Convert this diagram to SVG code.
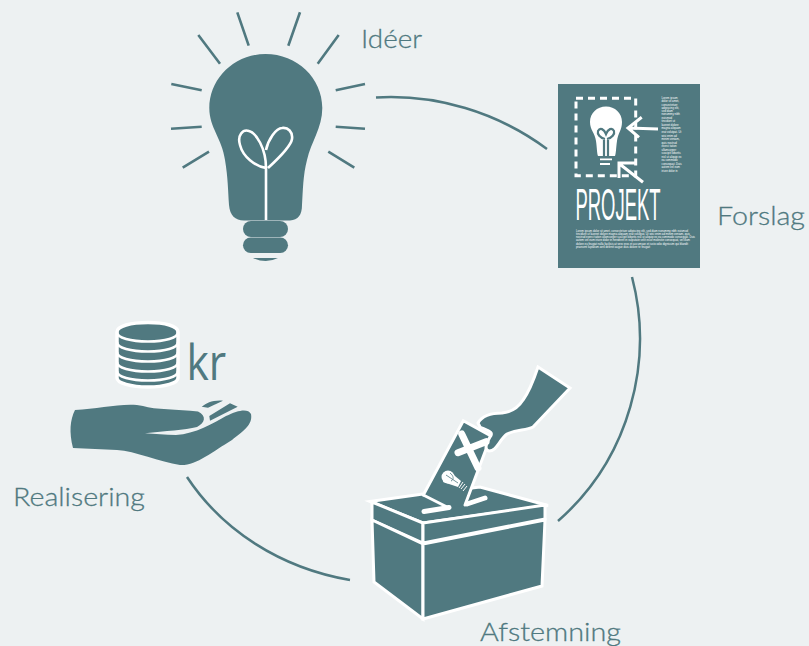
<svg xmlns="http://www.w3.org/2000/svg" width="809" height="646" viewBox="0 0 809 646">
<defs><style>
.t{fill:#507980}
.lbl{font-family:"Lato","Liberation Sans",sans-serif;font-size:26px;font-weight:300;fill:#507980;stroke:#507980;stroke-width:.3}
.ray{stroke:#507980;stroke-width:2.6;fill:none}
.arc{stroke:#507980;stroke-width:2.5;fill:none}
.w{stroke:#fff;fill:none}
.box{fill:#507980;stroke:#fff;stroke-width:3;stroke-linejoin:miter}
.tiny{font-family:"Liberation Sans",sans-serif;font-size:2.8px;fill:#fff}
</style></defs>
<rect width="809" height="646" fill="#edf1f2"/>
<g id="connectors">
<path class="arc" d="M376 97.500C436 94 497 112 547 149"/>
<path class="arc" d="M632 277C654 361 630 458 558 521"/>
<path class="arc" d="M350 580C280 568 222 530 187 477"/>
</g>
<g id="idea">
<path class="ray" d="M237.300 12.300L248.700 45.700M300 12.300L288.300 45.700M198.300 35L220 63.700M338.700 35L317.700 63.700M171.300 84L201.700 90.300M365 84L335.700 90.300M171 128.700L201.700 126.700M335.700 126.700L365 128.700M182.700 167.700L209 151.700M328.300 151.700L354.300 167.700"/>
<path class="t" d="M265.500 54C234 54 209.300 79 209.300 108C209.300 128 222 138 225 160C228 178 228 190 229 205C230 216 235 220 244 220.500L290 220.500C298 220 302 215 302 205C303 190 303 175 307 160C311 142 322.300 128 322.300 108C322.300 78 297 54 265.500 54Z"/>
<path d="M266 220V168C255 166 243 157 240 145C237 135 243 129 249 131C256 133 266 148 266 168M266 150C268 140 276 128 282 128C288 127 293 132 292 139C291 146 280 157 268 168" stroke="#fff" stroke-width="2.600" fill="none"/>
<rect class="t" x="243" y="221" width="45" height="16" rx="8"/>
<rect class="t" x="243" y="237.500" width="45" height="15.500" rx="7.700"/>
<path class="t" d="M253 258H278Q266 264 253 258Z"/>
<text class="lbl" x="361" y="48" textLength="61" lengthAdjust="spacingAndGlyphs">Idéer</text>
</g>
<g id="proposal">
<rect class="t" x="558" y="84" width="142" height="184"/>
<rect class="w" x="576" y="98.300" width="59.700" height="77.400" stroke-width="3" stroke-dasharray="7 5"/>
<path fill="#fff" d="M606 106.500C597 106.500 590 113 590 122C590 130 595 133 596 141C597 148 597 154 598 156H615C616 154 616 148 617 141C618 133 622 130 622 122C622 113 615 106.500 606 106.500Z"/>
<path d="M604 156V140M608 156V140M605 139C600 138 597 134 598 131C600 127 604 129 606 134C608 129 612 127 614 131C615 134 612 138 607 139" stroke="#507980" stroke-width="2.200" fill="none"/>
<path d="M600 159.300H612M600 164H610" stroke="#fff" stroke-width="1.800"/>
<path class="w" stroke-width="3" d="M658 129L628 128M641.700 117.300L628 128L639 137.300M643 182.300L619 163.500M637 163H619V178"/>
<text transform="translate(575.500 219.500) scale(.41 1)" font-family="Liberation Sans, sans-serif" font-size="45" fill="#fff">PROJEKT</text>
<g class="tiny">
<text x="661.500" y="99">Lorem ipsum</text><text x="661.500" y="102">dolor sit amet,</text>
<text x="661.500" y="105.500">consectetuer</text><text x="661.500" y="108.500">adipiscing elit,</text>
<text x="661.500" y="112">sed diam</text><text x="661.500" y="115">nonummy nibh</text>
<text x="661.500" y="119">euismod</text><text x="661.500" y="122">tincidunt ut</text>
<text x="661.500" y="126">laoreet dolore</text><text x="661.500" y="129">magna aliquam</text>
<text x="661.500" y="133">erat volutpat. Ut</text><text x="661.500" y="137">wisi enim ad</text>
<text x="661.500" y="140">minim veniam,</text><text x="661.500" y="144">quis nostrud</text>
<text x="661.500" y="147">exerci tation</text><text x="661.500" y="151">ullamcorper</text>
<text x="661.500" y="154">suscipit lobortis</text><text x="661.500" y="158">nisl ut aliquip ex</text>
<text x="661.500" y="161">ea commodo</text><text x="661.500" y="165">consequat. Duis</text>
<text x="661.500" y="168">autem vel eum</text><text x="661.500" y="172">iriure dolor in</text>
<text x="576" y="232" textLength="112" lengthAdjust="spacingAndGlyphs">Lorem ipsum dolor sit amet, consectetuer adipiscing elit, sed diam nonummy nibh euismod</text>
<text x="576" y="235" textLength="114" lengthAdjust="spacingAndGlyphs">tincidunt ut laoreet dolore magna aliquam erat volutpat. Ut wisi enim ad minim veniam, quis</text>
<text x="576" y="238" textLength="119" lengthAdjust="spacingAndGlyphs">nostrud exerci tation ullamcorper suscipit lobortis nisl ut aliquip ex ea commodo consequat. Duis</text>
<text x="576" y="241" textLength="114" lengthAdjust="spacingAndGlyphs">autem vel eum iriure dolor in hendrerit in vulputate velit esse molestie consequat, vel illum</text>
<text x="576" y="244.500" textLength="112" lengthAdjust="spacingAndGlyphs">dolore eu feugiat nulla facilisis at vero eros et accumsan et iusto odio dignissim qui blandit</text>
<text x="576" y="247.500" textLength="74" lengthAdjust="spacingAndGlyphs">praesent luptatum zzril delenit augue duis dolore te feugait</text>
</g>
<text class="lbl" x="717" y="225" textLength="88" lengthAdjust="spacingAndGlyphs">Forslag</text>
</g>
<g id="vote">
<path class="box" d="M370 501.500L423 494L480 487L548 505.500L423 523Z"/>
<path class="box" d="M372 502L423 523V543L372 520Z"/>
<path class="box" d="M423 523L545 505V519L423 543Z"/>
<path class="box" d="M372 520L423 544V619L374 582Z"/>
<path class="box" d="M423 544L545 520L542 586L423 619Z"/>
<path class="t" d="M463 421L491 436L465 505L449 508L423 495Z"/>
<path class="w" stroke-width="3" stroke-linecap="round" d="M423.300 495L463.300 420.700L491 436L465 505"/>
<path class="w" stroke-width="3" stroke-linecap="round" d="M423.300 495L449 508"/>
<path class="box" d="M538 367L570 388L533 427C526 431 517 429 507 434C499 440 497 451 489 451C484 450 486 444 490 437C494 432 489 431 480 427L478 423C482 416 492 413 502 413C512 412 518 408 523 400C529 392 534 379 538 367Z"/>
<path class="w" stroke-width="7" stroke-linecap="round" d="M461.700 434L478 468M458 452.700L486 441.700"/>
<circle cx="448" cy="477" r="6.500" fill="#fff"/>
<path d="M449 471L461 481L458 487L443 482Z" fill="#fff"/>
<path d="M446 475L458 483M450 473C454 476 454 480 451 481" stroke="#507980" stroke-width=".8" fill="none"/>
<path d="M463 482L459 488M465 484L461 489M467 486L463 491" stroke="#fff" stroke-width="1"/>
<path class="w" stroke-width="5" stroke-linecap="round" d="M424 511.500L449 507.500"/>
<path class="w" stroke-width="5" stroke-linecap="round" d="M467 504L485 498"/>
<text class="lbl" x="480" y="641" textLength="141" lengthAdjust="spacingAndGlyphs">Afstemning</text>
</g>
<g id="realisation">
<path class="t" stroke="#fff" stroke-width="3.500" d="M117 332V378C117 383 131 387 148 387C165 387 178 383 178 378V332C178 326 165 322.500 148 322.500C131 322.500 117 326 117 332Z"/>
<path class="w" stroke-width="2.600" d="M117 332C117 338 131 341.500 148 341.500C165 341.500 178 338 178 332M117 342C117 348 131 351.500 148 351.500C165 351.500 178 348 178 342M117 352C117 358 131 361.500 148 361.500C165 361.500 178 358 178 352M117 362C117 368 131 371.500 148 371.500C165 371.500 178 368 178 362M117 371C117 377 131 380.500 148 380.500C165 380.500 178 377 178 371"/>
<text transform="translate(186.500 379.500) scale(.85 1)" font-family="Open Sans, Liberation Sans, sans-serif" font-size="50" fill="#507980">kr</text>
<path class="t" d="M75 410C70 420 69 432 73 448L117 450C135 451 160 462 180 465C196 466 212 452 232 440C243 431 253 425 251 414C248 408 238 410 226 416C214 423 195 434 176 435C165 435 155 434 145 433.300C165 431 185 430 197 427C205 423 207 416 198 411.500C178 409 155 410 143 406C125 402 100 409 75 410Z"/>
<path class="t" d="M201.700 406.700C207 403 212 400 223 400.700L208 407.700ZM209.300 416L230 403.300L237.700 406.700L210 420.700Z"/>
<text class="lbl" x="13" y="506" textLength="132" lengthAdjust="spacingAndGlyphs">Realisering</text>
</g>
</svg>
